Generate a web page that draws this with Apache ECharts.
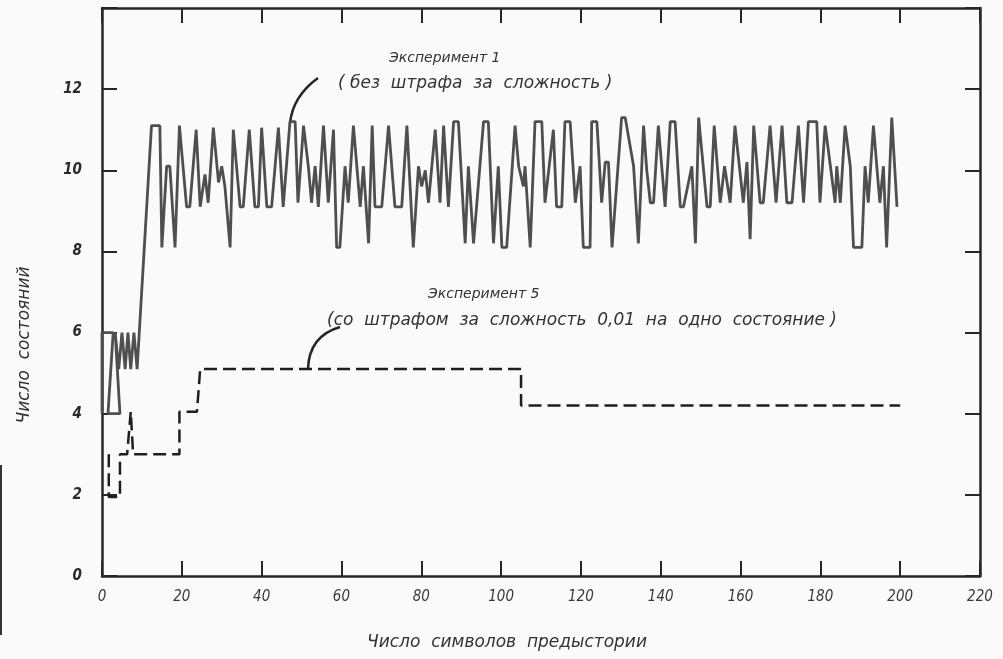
<!DOCTYPE html>
<html>
<head>
<meta charset="utf-8">
<script src="https://cdn.jsdelivr.net/npm/echarts@6/dist/echarts.min.js"></script>
<style>
  html, body { margin: 0; padding: 0; background: #fafafa; }
  #main { width: 1003px; height: 659px; }
</style>
</head>
<body>
<div id="main"></div>
<script>
// Эксперимент 1 (без штрафа за сложность)
var exp1Symbols = [
  0, 0, 2.8, 1.5, 4.5, 3.3, 4.2, 5, 5.8, 6.5, 7.2, 8, 8.8,
  12.4, 14.5, 15, 16.2, 17, 18.3, 19.4, 21.2, 22, 23.6, 24.6, 25.8, 26.6,
  27.9, 29.2, 30, 30.8, 32.1, 32.9, 34.6, 35.4, 36.9, 38.3, 39.2, 40, 41.3,
  42.5, 44.2, 45.4, 47.1, 48.4, 49.1, 50.5, 51.7, 52.5, 53.4, 54.2, 55.5,
  56.7, 58, 58.8, 59.6, 60.9, 61.7, 63, 64.7, 65.5, 66.8, 67.7, 68.4, 70.1,
  71.8, 73.4, 75.1, 76.4, 78, 79.3, 80.1, 81, 81.8, 83.5, 84.7, 85.6, 86.8,
  88.1, 89.3, 91, 91.8, 93.1, 95.6, 96.8, 98.1, 99.3, 100.2, 101.4, 103.5,
  104.4, 105.6, 106, 107.3, 108.5, 110.2, 111, 113.1, 113.9, 115.2, 116,
  117.3, 118.6, 119.8, 120.6, 122.3, 122.7, 124, 125.2, 126.1, 126.9, 127.8,
  130.2, 131.1, 133.2, 134.4, 135.7, 136.5, 137.4, 138.2, 139.4, 141.1,
  142.4, 143.6, 144.9, 145.7, 147.8, 148.7, 149.5, 151.6, 152.4, 153.4,
  154.9, 156, 157.4, 158.6, 160.7, 161.6, 162.4, 163.3, 164.9, 165.7, 167.4,
  168.9, 170.4, 171.6, 172.9, 174.5, 175.8, 177, 179.1, 179.9, 181.2, 183.7,
  184.1, 185, 186.2, 187.5, 188.3, 190.4, 191.2, 192, 193.3, 194.9, 195.8,
  196.6, 197.9, 199.2
];
var exp1States = [
  4, 6, 6, 4, 4, 6, 5.1, 6, 5.1, 6, 5.1, 6, 5.1,
  11.1, 11.1, 8.1, 10.1, 10.1, 8.1, 11.1, 9.1, 9.1, 11, 9.1, 9.9, 9.2,
  11.05, 9.7, 10.1, 9.6, 8.1, 11, 9.1, 9.1, 11, 9.1, 9.1, 11.05, 9.1,
  9.1, 11.05, 9.1, 11.2, 11.2, 9.2, 11.1, 10.1, 9.2, 10.1, 9.1, 11.1,
  9.2, 11, 8.1, 8.1, 10.1, 9.2, 11.1, 9.1, 10.1, 8.2, 11.1, 9.1, 9.1,
  11.1, 9.1, 9.1, 11.1, 8.1, 10.1, 9.6, 10, 9.2, 11, 9.2, 11.1, 9.1,
  11.2, 11.2, 8.2, 10.1, 8.2, 11.2, 11.2, 8.2, 10.1, 8.1, 8.1, 11.1,
  10.1, 9.6, 10.1, 8.1, 11.2, 11.2, 9.2, 11, 9.1, 9.1, 11.2,
  11.2, 9.2, 10.1, 8.1, 8.1, 11.2, 11.2, 9.2, 10.2, 10.2, 8.1,
  11.3, 11.3, 10.1, 8.2, 11.1, 10, 9.2, 9.2, 11.1, 9.1,
  11.2, 11.2, 9.1, 9.1, 10.1, 8.2, 11.3, 9.1, 9.1, 11.1,
  9.2, 10.1, 9.2, 11.1, 9.2, 10.2, 8.3, 11.1, 9.2, 9.2, 11.1,
  9.2, 11.1, 9.2, 9.2, 11.1, 9.2, 11.2, 11.2, 9.2, 11.1, 9.2,
  10.1, 9.2, 11.1, 10.1, 8.1, 8.1, 10.1, 9.2, 11.1, 9.2, 10.1,
  8.1, 11.3, 9.1
];

// Эксперимент 5 (со штрафом за сложность 0,01 на одно состояние)
var exp5Symbols = [1.7, 1.7, 4.5, 4.5, 6.3, 7.2, 7.8, 19.4, 19.4, 23.8, 24.6, 105, 105, 200];
var exp5States  = [3.0, 1.95, 1.95, 3.0, 3.0, 4.05, 3.0, 3.0, 4.05, 4.05, 5.1, 5.1, 4.2, 4.2];

var xTicks = [0, 20, 40, 60, 80, 100, 120, 140, 160, 180, 200, 220];
var yTicks = [0, 2, 4, 6, 8, 10, 12];

function pairs(xs, ys) {
  var out = [];
  for (var i = 0; i < xs.length; i++) out.push([xs[i], ys[i]]);
  return out;
}

var handFont = "'DejaVu Sans Condensed', 'Liberation Sans Narrow', sans-serif";
var wideFont = "'DejaVu Sans', sans-serif";
var ink = '#262626';

var frameLine = { show: true, onZero: false, lineStyle: { color: ink, width: 2.5 } };
var frameTick = { show: true, inside: true, length: 15, lineStyle: { color: ink, width: 2 } };

var myChart = echarts.init(document.getElementById('main'));

var option = {
  backgroundColor: '#fafafa',
  animation: false,
  grid: { left: 102, right: 23, top: 8, bottom: 83 },
  xAxis: [{
    type: 'value', position: 'bottom',
    min: xTicks[0], max: xTicks[xTicks.length - 1], interval: 20,
    axisLine: frameLine, axisTick: frameTick, splitLine: { show: false },
    axisLabel: {
      margin: 14, color: '#3a3a3a', fontSize: 15, fontStyle: 'italic',
      fontFamily: handFont
    }
  }, {
    type: 'value', position: 'top',
    min: xTicks[0], max: xTicks[xTicks.length - 1], interval: 20,
    axisLine: frameLine, axisTick: frameTick, splitLine: { show: false },
    axisLabel: { show: false }
  }],
  yAxis: [{
    type: 'value', position: 'left',
    min: 0, max: 14, interval: 2,
    axisLine: frameLine, axisTick: frameTick, splitLine: { show: false },
    axisLabel: {
      margin: 20, color: '#2a2a2a', fontSize: 15, fontStyle: 'italic', fontWeight: 'bold',
      fontFamily: handFont,
      formatter: function (v) { return yTicks.indexOf(v) >= 0 ? String(v) : ''; }
    }
  }, {
    type: 'value', position: 'right',
    min: 0, max: 14, interval: 2,
    axisLine: frameLine, axisTick: frameTick, splitLine: { show: false },
    axisLabel: { show: false }
  }],
  series: [{
    name: 'Эксперимент 1',
    type: 'line',
    data: pairs(exp1Symbols, exp1States),
    showSymbol: false, symbol: 'none',
    lineStyle: { color: '#4f4f4f', width: 2.8 }
  }, {
    name: 'Эксперимент 5',
    type: 'line',
    data: pairs(exp5Symbols, exp5States),
    showSymbol: false, symbol: 'none',
    lineStyle: { color: '#1e1e1e', width: 2.5, type: [13, 6] }
  }],
  graphic: [
    { type: 'text', left: 389, top: 51,
      style: { text: 'Эксперимент 1', fontSize: 14, fontStyle: 'italic', fontFamily: wideFont, fill: '#333' } },
    { type: 'text', left: 338, top: 75,
      style: { text: '( без  штрафа  за  сложность )', fontSize: 17, fontStyle: 'italic', fontFamily: wideFont, fill: '#333' } },
    { type: 'bezierCurve',
      shape: { x1: 290, y1: 123, x2: 318, y2: 78, cpx1: 293, cpy1: 96 },
      style: { stroke: ink, lineWidth: 2.5, fill: null } },
    { type: 'text', left: 428, top: 287,
      style: { text: 'Эксперимент 5', fontSize: 14, fontStyle: 'italic', fontFamily: wideFont, fill: '#333' } },
    { type: 'text', left: 327, top: 312,
      style: { text: '(со  штрафом  за  сложность  0,01  на  одно  состояние )', fontSize: 17, fontStyle: 'italic', fontFamily: wideFont, fill: '#333' } },
    { type: 'bezierCurve',
      shape: { x1: 308, y1: 369, x2: 340, y2: 327, cpx1: 309, cpy1: 336 },
      style: { stroke: ink, lineWidth: 2.5, fill: null } },
    { type: 'text', x: 25, y: 345, rotation: Math.PI / 2,
      style: { text: 'Число  состояний', fontSize: 17, fontStyle: 'italic', fontFamily: wideFont, fill: '#333',
               textAlign: 'center', textVerticalAlign: 'middle' } },
    { type: 'text', x: 507, y: 643,
      style: { text: 'Число  символов  предыстории', fontSize: 17, fontStyle: 'italic', fontFamily: wideFont, fill: '#333',
               textAlign: 'center', textVerticalAlign: 'middle' } },
    { type: 'rect', shape: { x: 0, y: 465, width: 2, height: 170 }, style: { fill: '#333' } }
  ]
};

myChart.setOption(option);
</script>
</body>
</html>
